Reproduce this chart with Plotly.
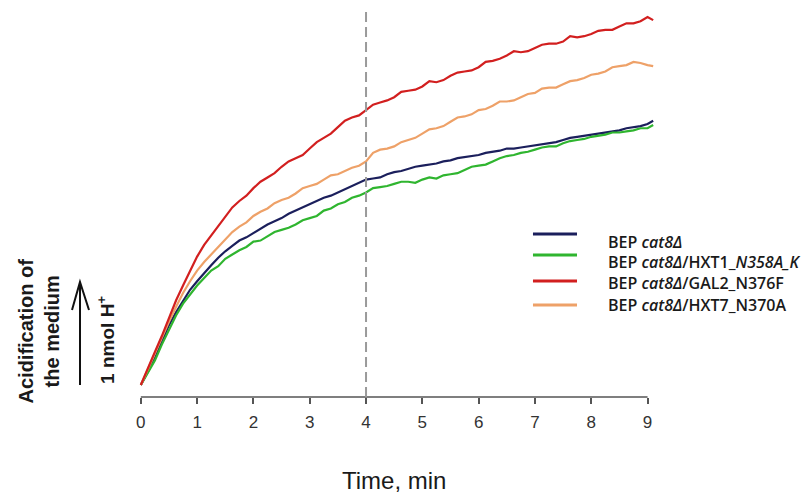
import plotly.graph_objects as go

# time axis (min): readings every 0.125 min, last reading at 9.1 min
time_min = [i * 0.125 for i in range(73)] + [9.1]

# acidification of the medium, nmol H+
cat8 = [0, 0.12, 0.25, 0.41, 0.56, 0.68, 0.79, 0.89,
        0.97, 1.05, 1.12, 1.19, 1.25, 1.30, 1.35, 1.38,
        1.42, 1.46, 1.50, 1.53, 1.56, 1.60, 1.63, 1.66,
        1.69, 1.72, 1.75, 1.77, 1.80, 1.83, 1.86, 1.89,
        1.92, 1.93, 1.94, 1.97, 1.99, 2.00, 2.02, 2.04,
        2.05, 2.06, 2.07, 2.09, 2.10, 2.12, 2.13, 2.14,
        2.15, 2.17, 2.18, 2.19, 2.21, 2.21, 2.22, 2.23,
        2.24, 2.25, 2.26, 2.27, 2.29, 2.31, 2.32, 2.33,
        2.34, 2.35, 2.36, 2.37, 2.38, 2.40, 2.41, 2.42,
        2.44, 2.47]
hxt1 = [0, 0.11, 0.23, 0.38, 0.52, 0.65, 0.76, 0.85,
        0.93, 1.00, 1.07, 1.11, 1.18, 1.22, 1.26, 1.29,
        1.34, 1.35, 1.39, 1.43, 1.45, 1.47, 1.50, 1.54,
        1.56, 1.58, 1.63, 1.65, 1.69, 1.71, 1.75, 1.77,
        1.80, 1.84, 1.85, 1.86, 1.88, 1.90, 1.90, 1.89,
        1.92, 1.94, 1.93, 1.96, 1.97, 1.98, 2.01, 2.04,
        2.05, 2.06, 2.09, 2.12, 2.14, 2.15, 2.17, 2.18,
        2.20, 2.22, 2.23, 2.23, 2.26, 2.28, 2.29, 2.30,
        2.32, 2.33, 2.34, 2.36, 2.36, 2.37, 2.38, 2.40,
        2.40, 2.43]
gal2 = [0, 0.16, 0.31, 0.46, 0.63, 0.79, 0.93, 1.06,
        1.20, 1.31, 1.40, 1.48, 1.58, 1.66, 1.72, 1.77,
        1.84, 1.90, 1.94, 1.98, 2.04, 2.09, 2.12, 2.15,
        2.21, 2.27, 2.31, 2.35, 2.41, 2.47, 2.50, 2.52,
        2.57, 2.62, 2.64, 2.66, 2.69, 2.74, 2.75, 2.76,
        2.79, 2.84, 2.83, 2.85, 2.89, 2.92, 2.93, 2.94,
        2.97, 3.02, 3.03, 3.05, 3.08, 3.12, 3.11, 3.12,
        3.15, 3.18, 3.19, 3.19, 3.21, 3.26, 3.25, 3.26,
        3.28, 3.31, 3.32, 3.32, 3.35, 3.38, 3.38, 3.40,
        3.44, 3.41]
hxt7 = [0, 0.15, 0.29, 0.45, 0.59, 0.73, 0.86, 0.97,
        1.07, 1.15, 1.22, 1.30, 1.36, 1.43, 1.48, 1.52,
        1.58, 1.62, 1.65, 1.70, 1.73, 1.75, 1.79, 1.84,
        1.86, 1.88, 1.92, 1.96, 1.97, 2.00, 2.03, 2.05,
        2.09, 2.17, 2.20, 2.21, 2.23, 2.27, 2.29, 2.31,
        2.35, 2.39, 2.40, 2.42, 2.46, 2.50, 2.51, 2.53,
        2.57, 2.58, 2.61, 2.65, 2.65, 2.66, 2.69, 2.72,
        2.73, 2.77, 2.78, 2.78, 2.81, 2.84, 2.85, 2.87,
        2.90, 2.91, 2.93, 2.97, 2.98, 2.99, 3.02, 3.01,
        2.99, 2.98]

series_names = ["BEP <i>cat8Δ</i>",
                "BEP <i>cat8Δ</i>/HXT1_<i>N358A_K</i>",
                "BEP <i>cat8Δ</i>/GAL2_N376F",
                "BEP <i>cat8Δ</i>/HXT7_N370A"]
series_values = [cat8, hxt1, gal2, hxt7]
series_colors = ["#1b1f5c", "#2fb52f", "#d21f1f", "#eea168"]

tick_vals = [0, 1, 2, 3, 4, 5, 6, 7, 8, 9]
marker_time = 4

fig = go.Figure()
draw_order = [0, 1, 3, 2]
for i in draw_order:
    fig.add_trace(go.Scatter(x=time_min, y=series_values[i], mode="lines",
                             line=dict(color=series_colors[i], width=2.2),
                             name=series_names[i], showlegend=False))

shapes = []
# x axis line from 0 to 9
shapes.append(dict(type="line", xref="x", yref="paper", x0=tick_vals[0], x1=tick_vals[-1],
                   y0=0, y1=0, line=dict(color="#555555", width=1.5)))
# dashed vertical marker
shapes.append(dict(type="line", xref="x", yref="paper", x0=marker_time, x1=marker_time,
                   y0=0, y1=1.005, line=dict(color="#9a9a9a", width=2, dash="10px,5px")))
# arrow (1 nmol H+)
shapes.append(dict(type="path", xref="paper", yref="paper",
                   path="M -0.1120 0.0310 L -0.1120 0.2972", line=dict(color="#111111", width=2)))
shapes.append(dict(type="path", xref="paper", yref="paper",
                   path="M -0.1274 0.2248 L -0.1120 0.2972 L -0.0946 0.2248",
                   line=dict(color="#111111", width=2)))

# legend
leg_line_y = [0.4212, 0.3669, 0.2997, 0.2377]
leg_text_y = [0.4005, 0.3488, 0.2946, 0.2377]
annotations = []
for k in range(4):
    shapes.append(dict(type="line", xref="paper", yref="paper", x0=0.7625, x1=0.8475,
                       y0=leg_line_y[k], y1=leg_line_y[k],
                       line=dict(color=series_colors[k], width=3)))
    annotations.append(dict(xref="paper", yref="paper", x=0.9035, y=leg_text_y[k],
                            xanchor="left", yanchor="middle", showarrow=False,
                            text=series_names[k],
                            font=dict(family="Open Sans", size=16, color="#1a1a1a", weight=600)))

annotations.append(dict(xref="paper", yref="paper", x=0.494, y=-0.217, showarrow=False,
                        text="Time, min", xanchor="center", yanchor="middle",
                        font=dict(family="Liberation Sans", size=24, color="#1a1a1a")))
annotations.append(dict(xref="paper", yref="paper", x=-0.1902, y=0.1705, showarrow=False,
                        text="<b>Acidification of<br>the medium</b>", textangle=-90,
                        xanchor="center", yanchor="middle",
                        font=dict(family="Liberation Sans", size=20, color="#1a1a1a")))
annotations.append(dict(xref="paper", yref="paper", x=-0.0620, y=0.1473, showarrow=False,
                        text="<b>1 nmol H<sup>+</sup></b>", textangle=-90,
                        xanchor="center", yanchor="middle",
                        font=dict(family="Liberation Sans", size=19, color="#1a1a1a")))

fig.update_layout(
    width=801, height=497,
    margin=dict(l=138, r=145, t=10, b=100),
    paper_bgcolor="white", plot_bgcolor="white",
    shapes=shapes, annotations=annotations,
    xaxis=dict(range=[-0.05, 9.15], tickvals=tick_vals, ticks="outside", ticklen=6,
               tickcolor="#555555", tickwidth=1.5, showline=False, showgrid=False,
               zeroline=False, ticklabelstandoff=4,
               tickfont=dict(family="Liberation Sans", size=17, color="#333333")),
    yaxis=dict(range=[-0.112, 3.505], visible=False, showgrid=False, zeroline=False),
)

fig.write_html("out.html", config={"displayModeBar": False},
               post_script="document.body.style.margin='0';document.body.style.overflow='hidden';")
